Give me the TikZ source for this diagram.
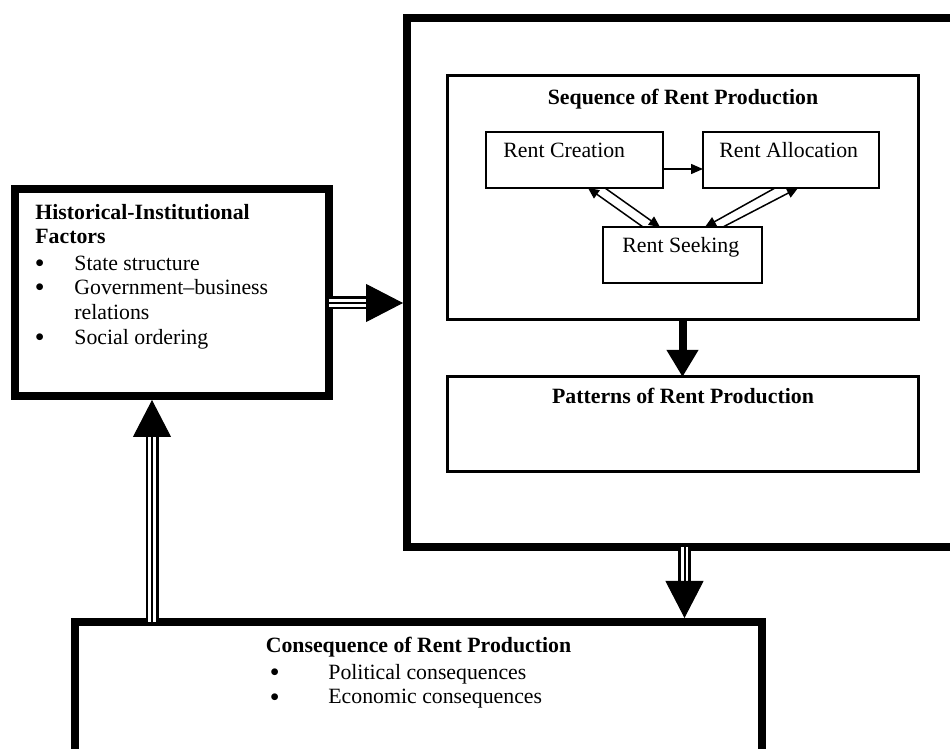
\documentclass[tikz,border=0pt]{standalone}
\usepackage{fontspec}
\setmainfont{Liberation Serif}
\usetikzlibrary{arrows.meta,calc}
\begin{document}
\begin{tikzpicture}[x=0.5pt,y=-0.5pt,
  font=\fontsize{10.9}{13}\selectfont,
  box/.style={draw, rectangle, outer sep=0pt, inner sep=0pt},
  heavy/.style={box, line width=4pt},
  medium/.style={box, line width=1.5pt},
  light/.style={box, line width=1pt},
  txt/.style={inner sep=0pt, anchor=base west},
  bul/.style={inner sep=0pt, anchor=base west, font=\fontsize{12.5}{13}\selectfont\bfseries},
  ttl/.style={inner sep=0pt, anchor=base, font=\fontsize{10.9}{13}\selectfont\bfseries},
  btxt/.style={txt, font=\fontsize{10.9}{13}\selectfont\bfseries},
  triple/.style={draw=black, line width=6.5pt, postaction={draw=white, line width=3.6pt}, postaction={draw=black, line width=1pt}},
  bighead/.style={-{Triangle[width=19pt,length=18.5pt]}, line width=0.5pt},
  thickarrow/.style={-{Triangle[width=15pt,length=13.5pt]}, line width=4pt},
  sarrow/.style={-{Triangle[width=5pt,length=6pt]}, line width=0.75pt},
  darrow/.style={-{Triangle[width=5pt,length=5.5pt]}, line width=0.75pt}
]
\clip (0,0) rectangle (950,749);
\fill[white] (0,0) rectangle (950,749);

% main boxes
\node[heavy, minimum width=277.5pt, minimum height=264.5pt] (outer) at (684.5,282.5) {};
\node[heavy, minimum width=157pt, minimum height=103.5pt] (hist) at (172,292.5) {};
\node[heavy, minimum width=343.5pt, minimum height=74pt] (cons) at (418.5,696) {};
\node[medium, minimum width=235.5pt, minimum height=122pt] (seq) at (682.5,198) {};
\node[medium, minimum width=235.5pt, minimum height=47.5pt] (pat) at (682.5,424.5) {};
\node[light, minimum width=88.5pt, minimum height=28pt] (crea) at (574.5,160) {};
\node[light, minimum width=88pt, minimum height=28pt] (allo) at (791,160) {};
\node[light, minimum width=79.5pt, minimum height=28pt] (seek) at (682.5,255) {};

% titles and labels
\node[ttl] (seqt) at ($(seq.north)+(0.5,29)$) {Sequence of Rent Production};
\node[ttl] (patt) at ($(pat.north)+(0.5,27)$) {Patterns of Rent Production};
\node[txt] (creat) at ($(crea.north west)+(17,26)$) {Rent Creation};
\node[txt] (allot) at ($(allo.north west)+(16,26)$) {Rent Allocation};
\node[txt] (seekt) at ($(seek.north west)+(19,26)$) {Rent Seeking};

% historical text
\node[btxt] (h1) at ($(hist.north west)+(20,31)$) {Historical-Institutional};
\node[btxt] (h2) at ($(hist.north west)+(20,55)$) {Factors};
\node[bul] (hb1) at ($(hist.north west)+(20,83)$) {\textbullet};
\node[txt] (hi1) at ($(hist.north west)+(59,82)$) {State structure};
\node[bul] (hb2) at ($(hist.north west)+(20,107)$) {\textbullet};
\node[txt] (hi2) at ($(hist.north west)+(59,106)$) {Government–business};
\node[txt] (hi2b) at ($(hist.north west)+(59,131)$) {relations};
\node[bul] (hb3) at ($(hist.north west)+(20,157)$) {\textbullet};
\node[txt] (hi3) at ($(hist.north west)+(59,156)$) {Social ordering};

% consequence text
\node[ttl] (const) at ($(cons.north)+(0,31)$) {Consequence of Rent Production};
\node[bul] (cb1) at ($(cons.north west)+(195,59)$) {\textbullet};
\node[txt] (ci1) at ($(cons.north west)+(253,58)$) {Political consequences};
\node[bul] (cb2) at ($(cons.north west)+(195,83)$) {\textbullet};
\node[txt] (ci2) at ($(cons.north west)+(253,82)$) {Economic consequences};

% sequence internal arrows
\draw[sarrow] ($(crea.east)+(0,9)$) -- ($(allo.west)+(0,9)$);
\draw[darrow] ($(seek.north west)+(40,0)$) -- ($(crea.south west)+(102,0)$);
\draw[darrow] ($(crea.south west)+(119,0)$) -- ($(seek.north west)+(57,0)$);
\draw[darrow] ($(allo.south west)+(72,0)$) -- ($(seek.north west)+(102,0)$);
\draw[darrow] ($(seek.north west)+(120,0)$) -- ($(allo.south west)+(95,0)$);

% sequence -> patterns
\draw[thickarrow] (seq.south) -- (pat.north);

% historical -> outer
\coordinate (ha) at ($(hist.east)+(0,10.5)$);
\draw[triple] (ha) -- ($(ha -| outer.west)+(-36,0)$);
\draw[bighead] ($(ha -| outer.west)+(-40,0)$) -- ($(ha -| outer.west)+(-4,0)$);

% outer -> consequence
\draw[triple] (outer.south) -- ($(outer.south |- cons.north)+(0,-34)$);
\draw[bighead] ($(outer.south |- cons.north)+(0,-38)$) -- ($(outer.south |- cons.north)+(0,-4)$);

% consequence -> historical
\coordinate (ca) at ($(cons.north west)+(77,0)$);
\draw[triple] (ca) -- ($(ca |- hist.south)+(0,36)$);
\draw[bighead] ($(ca |- hist.south)+(0,40)$) -- ($(ca |- hist.south)+(0,4)$);
\end{tikzpicture}
\end{document}
